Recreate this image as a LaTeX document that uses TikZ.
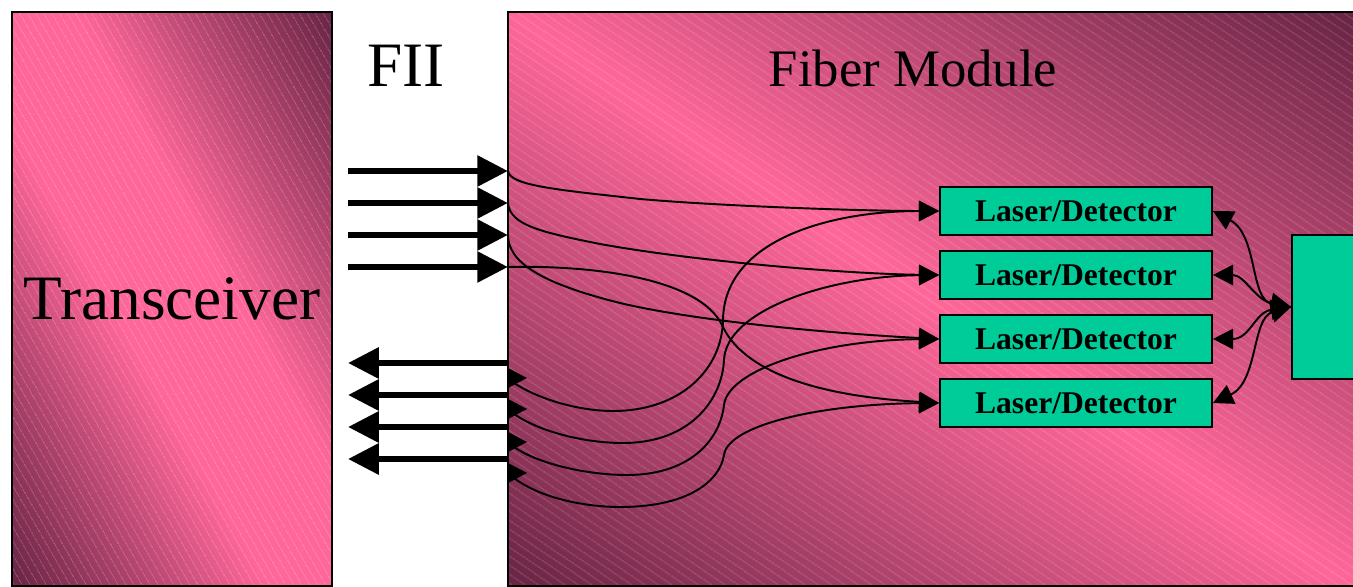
\documentclass[tikz,border=0pt]{standalone}
\usepackage{fontspec}
\setmainfont{Liberation Serif}
\usetikzlibrary{arrows.meta,patterns.meta}
\definecolor{pk}{RGB}{255,102,153}
\definecolor{pkdark}{RGB}{104,36,68}
\colorlet{pkmid}{pk!60!pkdark}
\definecolor{tealbox}{RGB}{0,204,153}
\pgfdeclareverticalshading{pinkband}{100bp}{color(0bp)=(pkdark); color(25bp)=(pkdark); color(37.5bp)=(pkmid); color(45bp)=(pk); color(55bp)=(pk); color(62.5bp)=(pkmid); color(75bp)=(pkdark); color(100bp)=(pkdark)}
\begin{document}
\begin{tikzpicture}[x=0.02cm,y=-0.02cm,
  ldbox/.style={draw=black, line width=1pt, fill=tealbox, minimum width=5.44cm, minimum height=0.96cm, inner sep=0pt, font=\fontsize{18}{20}\selectfont\bfseries},
  fatarrow/.style={line width=3.6pt, -{Triangle[length=17.5pt,width=17pt]}},
  wire/.style={line width=1.1pt, -{Triangle[length=11.5pt,width=11.5pt]}},
  biwire/.style={line width=1.1pt, {Triangle[length=11.5pt,width=11.5pt]}-{Triangle[length=11.5pt,width=11.5pt]}},
  hatch/.style={pattern={Lines[angle=#1,distance=4pt,line width=0.4pt]}, pattern color=white, opacity=0.22},
  bigbox/.style={draw=black, line width=1.1pt, inner sep=0pt, minimum height=11.48cm},
  bigtext/.style={font=\fontsize{36}{40}\selectfont},
]
\useasboundingbox (0,0) rectangle (1353,587);
\clip (0,0) rectangle (1353,587);
\fill[white] (0,0) rectangle (1353,587);

% Transceiver background
\begin{scope}
  \clip (12,12) rectangle (332,586);
  \shade[transform canvas={shift={(172,299)},rotate=-60.86}, shading=pinkband] (-340,-280) rectangle (340,280);
  \fill[hatch=-60] (12,12) rectangle (332,586);
\end{scope}
% Fiber module background
\begin{scope}
  \clip (508,12) rectangle (1370,586);
  \shade[transform canvas={shift={(930.5,299)},rotate=-34.18}, top color=pkdark, bottom color=pkdark, middle color=pk] (-530,-475) rectangle (530,475);
  \fill[hatch=-34] (508,12) rectangle (1370,586);
\end{scope}

\node[bigbox, bigtext, minimum width=6.4cm] (trx) at (172,299) {Transceiver};
\node[bigbox, minimum width=17.24cm] (fm) at (939,299) {};
\node[bigtext, anchor=base] (fii) at (406,87) {FII};
\node[font=\fontsize{30}{34}\selectfont, anchor=base] (fmtitle) at (913,87) {Fiber Module};

% Laser/Detector boxes and control box
\node[ldbox] (ld1) at (1076,211) {Laser/Detector};
\node[ldbox] (ld2) at (1076,275) {Laser/Detector};
\node[ldbox] (ld3) at (1076,339) {Laser/Detector};
\node[ldbox] (ld4) at (1076,403) {Laser/Detector};
\node[draw=black, line width=1pt, fill=tealbox, minimum width=1.56cm, minimum height=2.88cm, inner sep=0pt] (ctl) at (1331,307) {};

% thick FII arrows
\foreach \i/\y in {1/171,2/203,3/235,4/267} {
  \coordinate (is\i) at (348,\y);
  \coordinate (ie\i) at (508,\y);
  \draw[fatarrow] (is\i) -- (ie\i);
}
\foreach \i/\y in {1/363,2/395,3/427,4/459} {
  \coordinate (os\i) at (508,\y);
  \coordinate (oe\i) at (348,\y);
  \draw[fatarrow] (os\i) -- (oe\i);
}
% small arrowheads at the module edge
\foreach \i/\y in {1/378,2/409,3/442,4/473} {
  \fill (508,\y-10) -- (527,\y) -- (508,\y+10) -- cycle;
  \coordinate (t\i) at (514,\y+5);
}

% input fibers
\draw[wire] (ie1) .. controls (510,186) and (560,190) .. (640,199) .. controls (720,206) and (860,211) .. (ld1.west);
\draw[wire] (ie2) .. controls (510,225) and (540,232) .. (600,244) .. controls (700,262) and (850,274) .. (ld2.west);
\draw[wire] (ie3) .. controls (508,262) and (540,283) .. (620,303) .. controls (700,322) and (840,334) .. (ld3.west);
\draw[wire] (ie4) .. controls (600,265) and (700,280) .. (722,325) .. controls (740,365) and (800,395) .. (ld4.west);

% output fibers
\draw[wire] (t1) .. controls (540,400) and (580,411) .. (613,411) .. controls (680,411) and (722,370) .. (723,320) .. controls (724,240) and (830,211) .. (ld1.west);
\draw[wire] (t2) .. controls (540,432) and (585,443) .. (623,443) .. controls (690,443) and (722,400) .. (724,360) .. controls (726,310) and (830,276) .. (ld2.west);
\draw[wire] (t3) .. controls (540,465) and (590,475) .. (627,475) .. controls (690,475) and (720,440) .. (724,405) .. controls (728,370) and (820,340) .. (ld3.west);
\draw[wire] (t4) .. controls (540,498) and (585,507) .. (620,507) .. controls (690,507) and (720,480) .. (724,455) .. controls (728,425) and (820,404) .. (ld4.west);

% control links
\draw[biwire] (ctl.west) .. controls (1250,300) and (1258,235) .. (ld1.east);
\draw[biwire] (ctl.west) .. controls (1255,300) and (1245,275) .. (ld2.east);
\draw[biwire] (ctl.west) .. controls (1255,312) and (1250,339) .. (ld3.east);
\draw[biwire] (ctl.west) .. controls (1252,318) and (1258,382) .. (ld4.east);
\end{tikzpicture}
\end{document}
